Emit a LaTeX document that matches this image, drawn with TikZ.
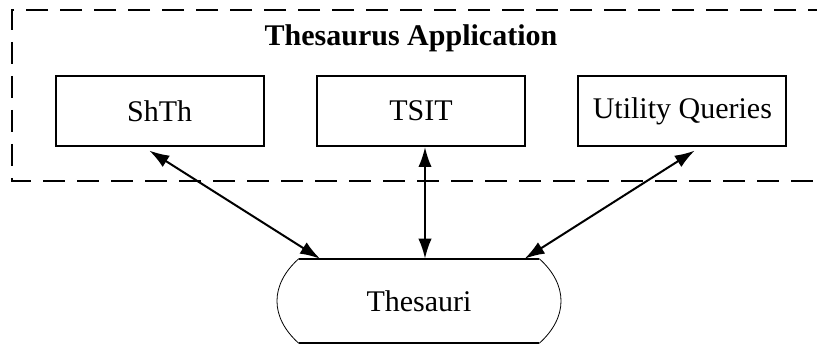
\documentclass[tikz,border=0pt]{standalone}
\usepackage{fontspec}
\setmainfont{Liberation Serif}
\usetikzlibrary{arrows.meta, positioning, calc}
\tikzset{
  appbox/.style  ={rectangle, draw=black, line width=1.5pt, minimum width=156pt,
                   minimum height=52.5pt, align=center, inner sep=0pt},
  storebox/.style={rectangle, minimum width=180pt, minimum height=63pt,
                   align=center, inner sep=0pt},
  apptitle/.style={font=\bfseries},
  group/.style   ={dash pattern=on 16.5pt off 9pt, line width=1.5pt},
  link/.style    ={{Latex[length=15pt,width=10pt]}-{Latex[length=15pt,width=10pt]}, line width=1.5pt},
}

\begin{document}
\begin{tikzpicture}[x=0.75pt, y=-0.75pt, node distance=0.5cm and 38.5pt]
    \fontsize{22.5}{27}\selectfont
    \useasboundingbox (0,0) rectangle (817,345);
    % application group, open on the right
    \coordinate (grp-nw) at (12,10);
    \coordinate (grp-sw) at (12,181);
    \draw[group] (grp-nw -| 830,0) -- (grp-nw) -- (grp-sw) -- (grp-sw -| 830,0);
    \node[apptitle] (title) at (411,38) {Thesaurus Application};
    \node[appbox] (tsit) at (421,111) {TSIT};
    \node[appbox, left=of tsit] (shth) {ShTh};
    \node[appbox, right=of tsit] (uq) {Utility Queries};
    \node[storebox] (thes) at (419,301) {Thesauri};

    % store outline
    \draw[line width=1.5pt] (thes.north west) -- (thes.north east);
    \draw[line width=1.5pt] (thes.south west) -- (thes.south east);
    \draw[line width=0.6pt] (thes.north west) .. controls +(-29,26) and +(-29,-26) .. (thes.south west);
    \draw[line width=0.6pt] (thes.north east) .. controls +(29,26) and +(29,-26) .. (thes.south east);

    \draw[link, shorten <=5pt] ([xshift=-12]shth.south) -- ([xshift=16]thes.north west);
    \draw[link] ([xshift=3]tsit.south) -- ([xshift=3]tsit.south |- thes.north);
    \draw[link, shorten <=5pt] ([xshift=13.5]uq.south) -- ([xshift=-11]thes.north east);
  \end{tikzpicture}
\end{document}
